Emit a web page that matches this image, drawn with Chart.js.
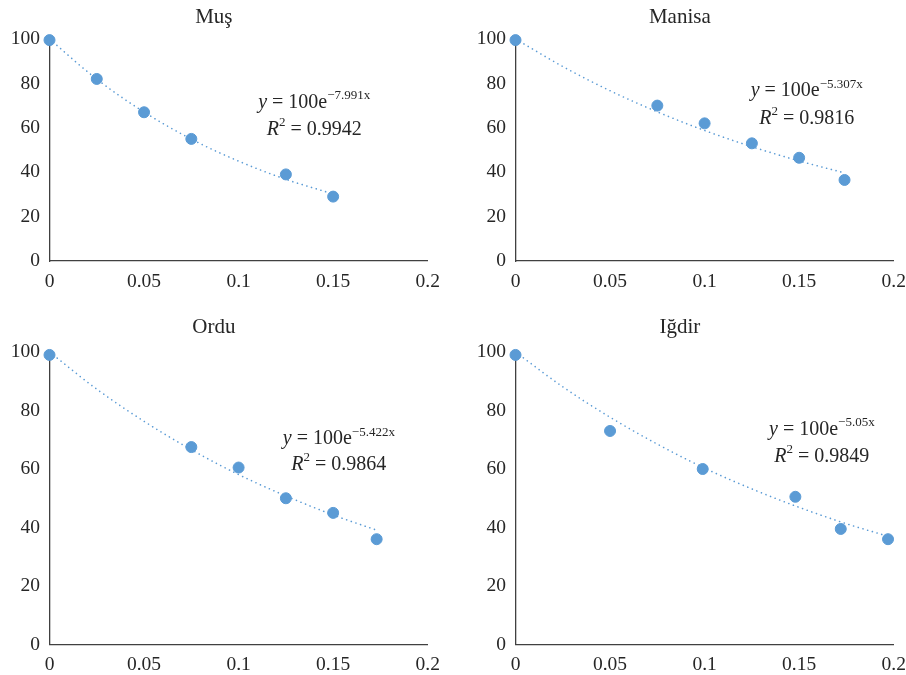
<!DOCTYPE html>
<html>
<head>
<meta charset="utf-8">
<script src="https://cdn.jsdelivr.net/npm/chart.js@4.4.1/dist/chart.umd.min.js"></script>
<style>
  html, body { margin: 0; padding: 0; background: #fff; width: 906px; height: 675px; overflow: hidden; }
  canvas { position: absolute; }
</style>
</head>
<body>
<canvas id="c0" width="450" height="300" style="left:0px;top:0px"></canvas>
<canvas id="c1" width="450" height="300" style="left:466px;top:0px"></canvas>
<canvas id="c2" width="450" height="365" style="left:0px;top:310px"></canvas>
<canvas id="c3" width="450" height="365" style="left:466px;top:310px"></canvas>
<script>
// ---- data ----
const titles = ['Muş', 'Manisa', 'Ordu', 'Iğdir'];

const musX = [0, 0.025, 0.05, 0.075, 0.125, 0.15];
const musY = [99.5, 82, 67, 55, 39, 29];
const manisaX = [0, 0.075, 0.1, 0.125, 0.15, 0.174];
const manisaY = [99.5, 70, 62, 53, 46.5, 36.5];
const orduX = [0, 0.075, 0.1, 0.125, 0.15, 0.173];
const orduY = [99, 67.5, 60.5, 50, 45, 36];
const igdirX = [0, 0.05, 0.099, 0.148, 0.172, 0.197];
const igdirY = [99, 73, 60, 50.5, 39.5, 36];

// dotted trendlines (exponential fit, sampled along the curve)
const musTrendX = [0, 0.025, 0.05, 0.075, 0.1, 0.125, 0.15];
const musTrendY = [100, 81.9, 67.1, 54.9, 45.0, 36.8, 30.2];
const manisaTrendX = [0, 0.025, 0.05, 0.075, 0.1, 0.125, 0.15, 0.174];
const manisaTrendY = [100, 87.6, 76.7, 67.2, 58.8, 51.5, 45.1, 39.7];
const orduTrendX = [0, 0.025, 0.05, 0.075, 0.1, 0.125, 0.15, 0.173];
const orduTrendY = [100, 87.3, 76.3, 66.6, 58.1, 50.8, 44.3, 39.1];
const igdirTrendX = [0, 0.025, 0.05, 0.075, 0.1, 0.125, 0.15, 0.175, 0.197];
const igdirTrendY = [100, 88.1, 77.7, 68.5, 60.3, 53.2, 46.9, 41.3, 37.0];

const exponents = ['−7.991x', '−5.307x', '−5.422x', '−5.05x'];
const r2Values = ['0.9942', '0.9816', '0.9864', '0.9849'];

const xTickLabels = ['0', '0.05', '0.1', '0.15', '0.2'];
const yTickLabels = ['0', '20', '40', '60', '80', '100'];

// ---- layout / style ----
const FONT = "'Liberation Serif', 'DejaVu Serif', serif";
const BLUE = '#5b9bd5';
const AXIS = '#404040';

const panels = [
  { id: 'c0', pts: [musX, musY], trend: [musTrendX, musTrendY], h: 300, chartTop: 39, chartBottom: 261, eq: [0.14, 71.5, 59] },
  { id: 'c1', pts: [manisaX, manisaY], trend: [manisaTrendX, manisaTrendY], h: 300, chartTop: 39, chartBottom: 261, eq: [0.154, 76.5, 64.3] },
  { id: 'c2', pts: [orduX, orduY], trend: [orduTrendX, orduTrendY], h: 365, chartTop: 42, chartBottom: 334.5, eq: [0.153, 70.2, 61.4] },
  { id: 'c3', pts: [igdirX, igdirY], trend: [igdirTrendX, igdirTrendY], h: 365, chartTop: 42, chartBottom: 334.5, eq: [0.162, 73.4, 64.1] }
];

// draws a run of text pieces centred on (cx, cy)
function drawPieces(ctx, cx, cy, pieces) {
  let total = 0;
  pieces.forEach(p => { ctx.font = p.font; p.w = ctx.measureText(p.t).width; total += p.w; });
  let x = cx - total / 2;
  ctx.textBaseline = 'middle';
  ctx.textAlign = 'left';
  pieces.forEach(p => {
    ctx.font = p.font;
    ctx.fillText(p.t, x, cy + (p.dy || 0));
    x += p.w;
  });
}

const equationPlugin = {
  id: 'equation',
  afterDraw(chart, args, opts) {
    const ctx = chart.ctx;
    const xs = chart.scales.x, ys = chart.scales.y;
    const cx = xs.getPixelForValue(opts.pos[0]);
    const y1 = ys.getPixelForValue(opts.pos[1]);
    const y2 = ys.getPixelForValue(opts.pos[2]);
    const main = '20px ' + FONT, ital = 'italic 20px ' + FONT, sup = '13px ' + FONT;
    ctx.save();
    ctx.fillStyle = '#262626';
    drawPieces(ctx, cx, y1, [
      { t: 'y', font: ital },
      { t: ' = 100e', font: main },
      { t: opts.exponent, font: sup, dy: -7 }
    ]);
    drawPieces(ctx, cx, y2, [
      { t: 'R', font: ital },
      { t: '2', font: sup, dy: -7 },
      { t: ' = ' + opts.r2, font: main }
    ]);
    ctx.restore();
  }
};

panels.forEach((p, i) => {
  const pts = p.pts[0].map((x, k) => ({ x: x, y: p.pts[1][k] }));
  const trend = p.trend[0].map((x, k) => ({ x: x, y: p.trend[1][k] }));
  new Chart(document.getElementById(p.id), {
    type: 'scatter',
    data: {
      datasets: [
        {
          data: pts,
          backgroundColor: BLUE,
          borderColor: BLUE,
          pointRadius: 5.5,
          pointHoverRadius: 5.5,
          clip: false
        },
        {
          type: 'line',
          data: trend,
          showLine: true,
          borderColor: BLUE,
          borderWidth: 1.6,
          borderDash: [0.1, 4.8],
          borderCapStyle: 'round',
          cubicInterpolationMode: 'monotone',
          pointRadius: 0,
          fill: false,
          clip: false
        }
      ]
    },
    options: {
      responsive: false,
      animation: false,
      devicePixelRatio: 1,
      layout: { padding: { left: 0, right: 22.3, top: 0, bottom: 0 } },
      plugins: {
        legend: { display: false },
        tooltip: { enabled: false },
        title: {
          display: true,
          text: titles[i],
          color: '#262626',
          font: { family: FONT, size: 21, weight: 'normal', lineHeight: 1.2 },
          padding: { top: 4.5, bottom: p.chartTop - 29.7 }
        },
        equation: { pos: p.eq, exponent: exponents[i], r2: r2Values[i] }
      },
      scales: {
        x: {
          type: 'linear',
          min: 0, max: 0.2,
          grid: { display: false, drawTicks: false },
          border: { display: true, color: AXIS, width: 1.3 },
          ticks: {
            stepSize: 0.05,
            padding: 9,
            color: '#262626',
            font: { family: FONT, size: 19.5 },
            maxRotation: 0,
            callback: (v, idx) => xTickLabels[idx]
          },
          afterFit: s => { s.height = p.h - p.chartBottom; }
        },
        y: {
          min: 0, max: 100,
          grid: { display: false, drawTicks: false },
          border: { display: true, color: AXIS, width: 1.3 },
          ticks: {
            stepSize: 20,
            padding: 9.5,
            color: '#262626',
            font: { family: FONT, size: 19.5 },
            callback: (v, idx) => yTickLabels[idx]
          },
          afterFit: s => { s.width = 49.5; }
        }
      }
    },
    plugins: [equationPlugin]
  });
});
</script>
</body>
</html>
